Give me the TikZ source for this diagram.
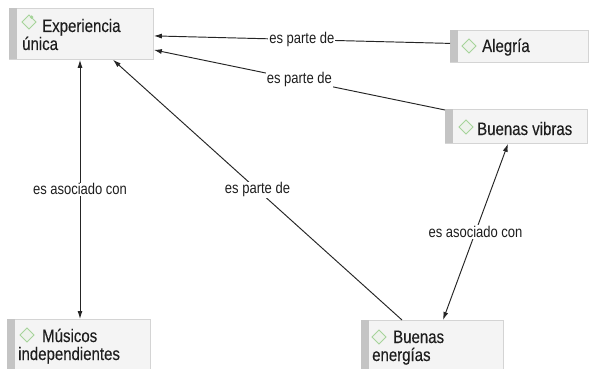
\documentclass[tikz,border=0pt]{standalone}
\usepackage{fontspec}
\setmainfont{Liberation Sans}
\newfontfamily\boxfont[FakeBold=0.25]{Liberation Sans}
\usetikzlibrary{arrows.meta,calc}
\definecolor{boxfill}{HTML}{F4F4F4}
\definecolor{boxline}{HTML}{D4D4D4}
\definecolor{barcol}{HTML}{C4C4C4}
\definecolor{icongreen}{HTML}{A6D49A}
\definecolor{iconfill}{HTML}{EEF2EC}
\definecolor{txt}{HTML}{1E1E1E}
\definecolor{linecol}{HTML}{252525}
\newcommand\tallbox[1]{\scalebox{1}[1.2]{#1}}
\begin{document}
\begin{tikzpicture}[x=1pt,y=-1pt,
  conbox/.style n args={2}{draw=boxline, fill=boxfill, line width=0.8pt, anchor=north west,
    inner sep=0pt, minimum width=#1, minimum height=#2},
  boxtext/.style={anchor=base west, inner sep=0pt, text=txt, font=\boxfont\fontsize{15}{18}\selectfont},
  icon/.style={draw=icongreen, fill=iconfill, line width=0.9pt, rotate=45, minimum size=10pt, inner sep=0pt},
  conn/.style={draw=linecol, line width=0.95pt},
  tip/.style={-{Latex[length=8pt,width=5pt]}},
  tips/.style={{Latex[length=8pt,width=5pt]}-{Latex[length=8pt,width=5pt]}},
  lbl/.style={fill=white, inner sep=1pt, text=txt, font=\fontsize{13}{15}\selectfont}]
\useasboundingbox (0,0) rectangle (589,369);
\clip (0,0) rectangle (589,369);
\fill[white] (0,0) rectangle (589,369);

% boxes
\node[conbox={144}{51}] (exp) at (9,8) {};
\node[conbox={138}{32}] (ale) at (450,30) {};
\node[conbox={142}{34}] (vib) at (445,109) {};
\node[conbox={143}{51}] (mus) at (7,319) {};
\node[conbox={142}{51}] (en) at (361,320) {};

% left bars
\foreach \b in {exp,ale,vib,mus,en}{
  \fill[barcol] ($(\b.north west)+(0.4,0.4)$) rectangle ($(\b.south west)+(8,-0.4)$);
}

% icons
\node[icon] (iexp) at (29,22) {};
\fill[icongreen] (iexp.north) ++(6.5,-1) circle (1.8);
\node[icon] (iale) at (469,46) {};
\node[icon] (ivib) at (466,127) {};
\node[icon] (imus) at (27,335) {};
\node[icon] (ien) at (379,337) {};

% texts
\node[boxtext] (texp1) at (42,32) {\tallbox{Experiencia}};
\node[boxtext] (texp2) at (22,50) {\tallbox{única}};
\node[boxtext] (tale) at (482,52) {\tallbox{Alegría}};
\node[boxtext] (tvib) at (477,135) {\tallbox{Buenas vibras}};
\node[boxtext] (tmus1) at (42,342) {\tallbox{Músicos}};
\node[boxtext] (tmus2) at (18,360) {\tallbox{independientes}};
\node[boxtext] (ten1) at (393,343) {\tallbox{Buenas}};
\node[boxtext] (ten2) at (372,361) {\tallbox{energías}};

% connectors
\draw[conn,tip] ($(ale.west)+(0,-3)$) -- node[lbl,pos=0.5] {\tallbox{es parte de}} ($(exp.east)+(0,2)$);
\draw[conn,tip] ($(vib.north west)+(0,1)$) -- node[lbl,pos=0.5] {\tallbox{es parte de}} ($(exp.east)+(0,16)$);
\draw[conn,tip] ($(en.north west)+(41,0)$) -- node[lbl,pos=0.5] {\tallbox{es parte de}} ($(exp.south west)+(104,0)$);
\draw[conn,tips] ($(exp.south west)+(71,0)$) -- node[lbl,pos=0.5] {\tallbox{es asociado con}} ($(mus.north west)+(73,0)$);
\draw[conn,tips] ($(vib.south west)+(63,0)$) -- node[lbl,pos=0.5] {\tallbox{es asociado con}} ($(en.north west)+(82,0)$);
\end{tikzpicture}
\end{document}
